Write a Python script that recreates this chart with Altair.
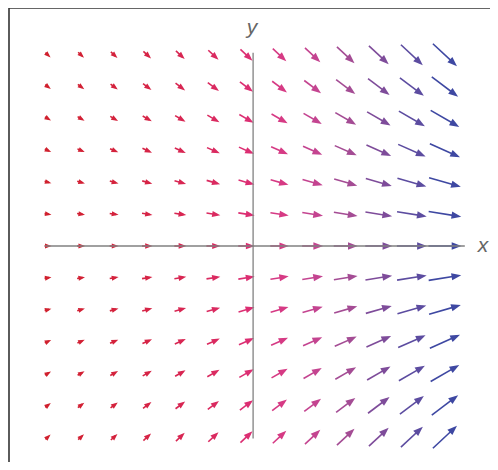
import math
import altair as alt
import pandas as pd

# grid of the field (column x values, row y values)
xs = [-6, -5, -4, -3, -2, -1, 0, 1, 2, 3, 4, 5, 6]
ys = [6, 5, 4, 3, 2, 1, 0, -1, -2, -3, -4, -5, -6]
# arrow length per column (px)
col_len = [7, 8, 9, 10.5, 12, 14, 16.5, 18.5, 21, 24, 27, 30, 33]
# arrow direction per row (degrees below horizontal)
row_angle = [43, 37, 30, 24, 16, 9, 0, -9, -16, -24, -30, -37, -43]
# arrow colour per column
col_color = ["#d0202e", "#d22034", "#d4223c", "#d62446", "#d82652", "#da2a60",
             "#dc2e72", "#d63a84", "#c44490", "#a44c94", "#7e4c9a", "#5c4ca0", "#3e48a2"]

axis_names = ["x", "y"]

# layout
W, H = 481, 454
PX_X, PX_Y = 33.08, 31.83
x0 = -6 - (48 - 9) / PX_X
x1 = x0 + W / PX_X
y1 = 6 + (55 - 8) / PX_Y
y0 = y1 - H / PX_Y

rows = []
for j, yv in enumerate(ys):
    for i, xv in enumerate(xs):
        L = col_len[i]
        a = math.radians(row_angle[j])
        ux = L * math.cos(a) / PX_X
        uy = -L * math.sin(a) / PX_Y
        hl = min(7.5, max(5.0, 0.2 * L + 3.5))
        s = 1.3 * hl / 1.2
        tipx, tipy = xv + ux / 2, yv + uy / 2
        endx = tipx - ux * (0.5 * hl / L)
        endy = tipy - uy * (0.5 * hl / L)
        rows.append(dict(
            tx=xv - ux / 2, ty=yv - uy / 2,
            ex=endx, ey=endy,
            hx=tipx, hy=tipy,
            rot=(row_angle[j] + 90) % 360,
            hsize=(2 * s) ** 2,
            color=col_color[i],
        ))
df = pd.DataFrame(rows)

xscale = alt.Scale(domain=[x0, x1], nice=False, zero=False)
yscale = alt.Scale(domain=[y0, y1], nice=False, zero=False)

shafts = alt.Chart(df).mark_rule(strokeWidth=1.6, strokeCap="butt").encode(
    x=alt.X("tx:Q", scale=xscale, axis=None),
    y=alt.Y("ty:Q", scale=yscale, axis=None),
    x2="ex:Q", y2="ey:Q",
    color=alt.Color("color:N", scale=None),
)

heads = alt.Chart(df).mark_point(
    shape="M0,0L0.45,1.2L-0.45,1.2Z", filled=True, opacity=1, strokeWidth=0
).encode(
    x=alt.X("hx:Q", scale=xscale, axis=None),
    y=alt.Y("hy:Q", scale=yscale, axis=None),
    angle=alt.Angle("rot:Q", scale=None),
    size=alt.Size("hsize:Q", scale=None),
    color=alt.Color("color:N", scale=None),
)

axes_df = pd.DataFrame([
    dict(ax=-6.09, ay=0.0, bx=6.6, by=0.0),
    dict(ax=0.2, ay=-6.05, bx=0.2, by=6.07),
])
axes_lines = alt.Chart(axes_df).mark_rule(color="#808080", strokeWidth=1.3).encode(
    x=alt.X("ax:Q", scale=xscale, axis=None),
    y=alt.Y("ay:Q", scale=yscale, axis=None),
    x2="bx:Q", y2="by:Q",
)

labels_df = pd.DataFrame([
    dict(lx=7.15, ly=0.0, t=axis_names[0]),
    dict(lx=0.17, ly=6.85, t=axis_names[1]),
])
labels = alt.Chart(labels_df).mark_text(
    fontSize=21, fontStyle="italic", font="Liberation Sans", color="#666666",
    baseline="middle", align="center"
).encode(
    x=alt.X("lx:Q", scale=xscale, axis=None),
    y=alt.Y("ly:Q", scale=yscale, axis=None),
    text="t:N",
)

# frame: left and top edges of the outer box
frame_df = pd.DataFrame([dict(fx=x0, fy=y0, fx2=x1, fy2=y1)])
frame_left = alt.Chart(frame_df).mark_rule(color="#333333", strokeWidth=1.6).encode(
    x=alt.X("fx:Q", scale=xscale, axis=None),
    y=alt.Y("fy:Q", scale=yscale, axis=None),
    y2="fy2:Q",
)
frame_top = alt.Chart(frame_df).mark_rule(color="#333333", strokeWidth=1.6).encode(
    x=alt.X("fx:Q", scale=xscale, axis=None),
    x2="fx2:Q",
    y=alt.Y("fy2:Q", scale=yscale, axis=None),
)

chart = alt.layer(shafts, heads, axes_lines, labels, frame_left, frame_top).properties(
    width=W, height=H,
    autosize=alt.AutoSizeParams(type="none"),
    padding={"left": 1, "top": 0, "right": 0, "bottom": 0},
).configure_view(strokeWidth=0, strokeOpacity=0)

chart.save("out.html", embed_options={"renderer": "svg", "actions": False})
